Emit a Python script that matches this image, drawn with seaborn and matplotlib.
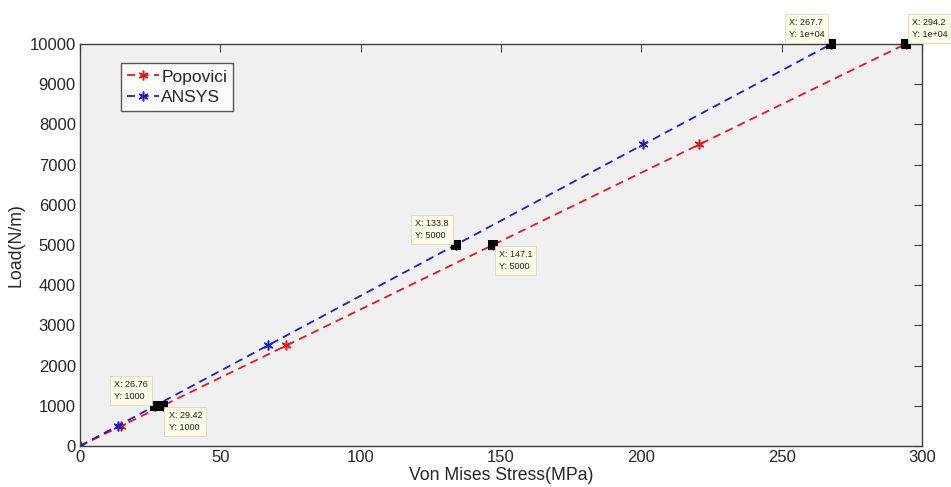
import matplotlib
matplotlib.use("Agg")
import matplotlib.pyplot as plt
import seaborn as sns
import pandas as pd

loads = [0, 500, 1000, 2500, 5000, 7500, 10000]
popovici_stress = [0, 14.7, 29.42, 73.55, 147.1, 220.65, 294.2]
ansys_stress = [0, 13.38, 26.76, 66.9, 133.8, 200.7, 267.7]

x_ticks = [0, 50, 100, 150, 200, 250, 300]
y_ticks = [0, 1000, 2000, 3000, 4000, 5000, 6000, 7000, 8000, 9000, 10000]

# data tips: (x, y, label_y, placement)
tips_x = [26.76, 29.42, 133.8, 147.1, 267.7, 294.2]
tips_y = [1000, 1000, 5000, 5000, 10000, 10000]
tips_ylabel = ["1000", "1000", "5000", "5000", "1e+04", "1e+04"]
tips_place = ["ul", "lr", "ul", "lr", "ul", "ur"]

sns.set_style("white")
plt.rcParams['font.family'] = ['Liberation Sans', 'DejaVu Sans']

fig = plt.figure(figsize=(9.51, 4.87), dpi=100)
ax = fig.add_axes([0.0841, 0.0842, 0.8854, 0.8255])
ax.set_facecolor('#f0f0f0')

df_p = pd.DataFrame({"stress": popovici_stress, "load": loads})
df_a = pd.DataFrame({"stress": ansys_stress, "load": loads})

red = '#e8141c'
blue = '#1c1cc8'
star = (6, 2, 0)
for df, col, lab in [(df_p, red, 'Popovici'), (df_a, blue, 'ANSYS')]:
    sns.lineplot(data=df, x="stress", y="load", ax=ax, color=col, linestyle=(0, (4.5, 3)),
                 marker=star, markersize=7, markeredgecolor=col, markeredgewidth=1.1,
                 linewidth=1.3, label=lab, sort=False)

ax.set_xlim(0, 300)
ax.set_ylim(0, 10000)
ax.set_xticks(x_ticks)
ax.set_yticks(y_ticks)
ax.set_xticklabels([str(v) for v in x_ticks])
ax.set_yticklabels([str(v) for v in y_ticks])
ax.tick_params(direction='in', length=6, width=0.8, labelsize=12, color='#404040',
               top=True, right=True, pad=3)
for s in ax.spines.values():
    s.set_visible(True)
    s.set_color('#404040')
    s.set_linewidth(1.0)

ax.set_xlabel("Von Mises Stress(MPa)", fontsize=12.7, labelpad=1)
ax.set_ylabel("Load(N/m)", fontsize=12.7, labelpad=4)

leg = ax.legend(loc='upper left', bbox_to_anchor=(0.049, 0.952), borderaxespad=0,
                fontsize=12.5, handlelength=1.8, handletextpad=0.15, labelspacing=0.3,
                borderpad=0.35, fancybox=False, frameon=True)
leg.get_frame().set_edgecolor('#303030')
leg.get_frame().set_facecolor('white')
leg.get_frame().set_linewidth(1.0)

# data tips
offsets = {"ul": ((-7, 5), 'right', 'bottom'),
           "lr": ((6, -5), 'left', 'top'),
           "ur": ((6, 5), 'left', 'bottom')}
ax.scatter(tips_x, tips_y, marker='s', s=46, color='black', zorder=5, clip_on=False,
           linewidths=0)
for x, y, yl, pl in zip(tips_x, tips_y, tips_ylabel, tips_place):
    off, ha, va = offsets[pl]
    ax.annotate(f"X: {x:g}\nY: {yl}", xy=(x, y), xytext=off, textcoords='offset pixels',
                ha=ha, va=va, multialignment='left', fontsize=6.5, color='#202020',
                linespacing=1.4, annotation_clip=False, zorder=6,
                bbox=dict(boxstyle='square,pad=0.45', facecolor='#fbfbe6',
                          edgecolor='#d8d8c8', linewidth=0.6))

fig.savefig("out.png", dpi=100, facecolor='white')
